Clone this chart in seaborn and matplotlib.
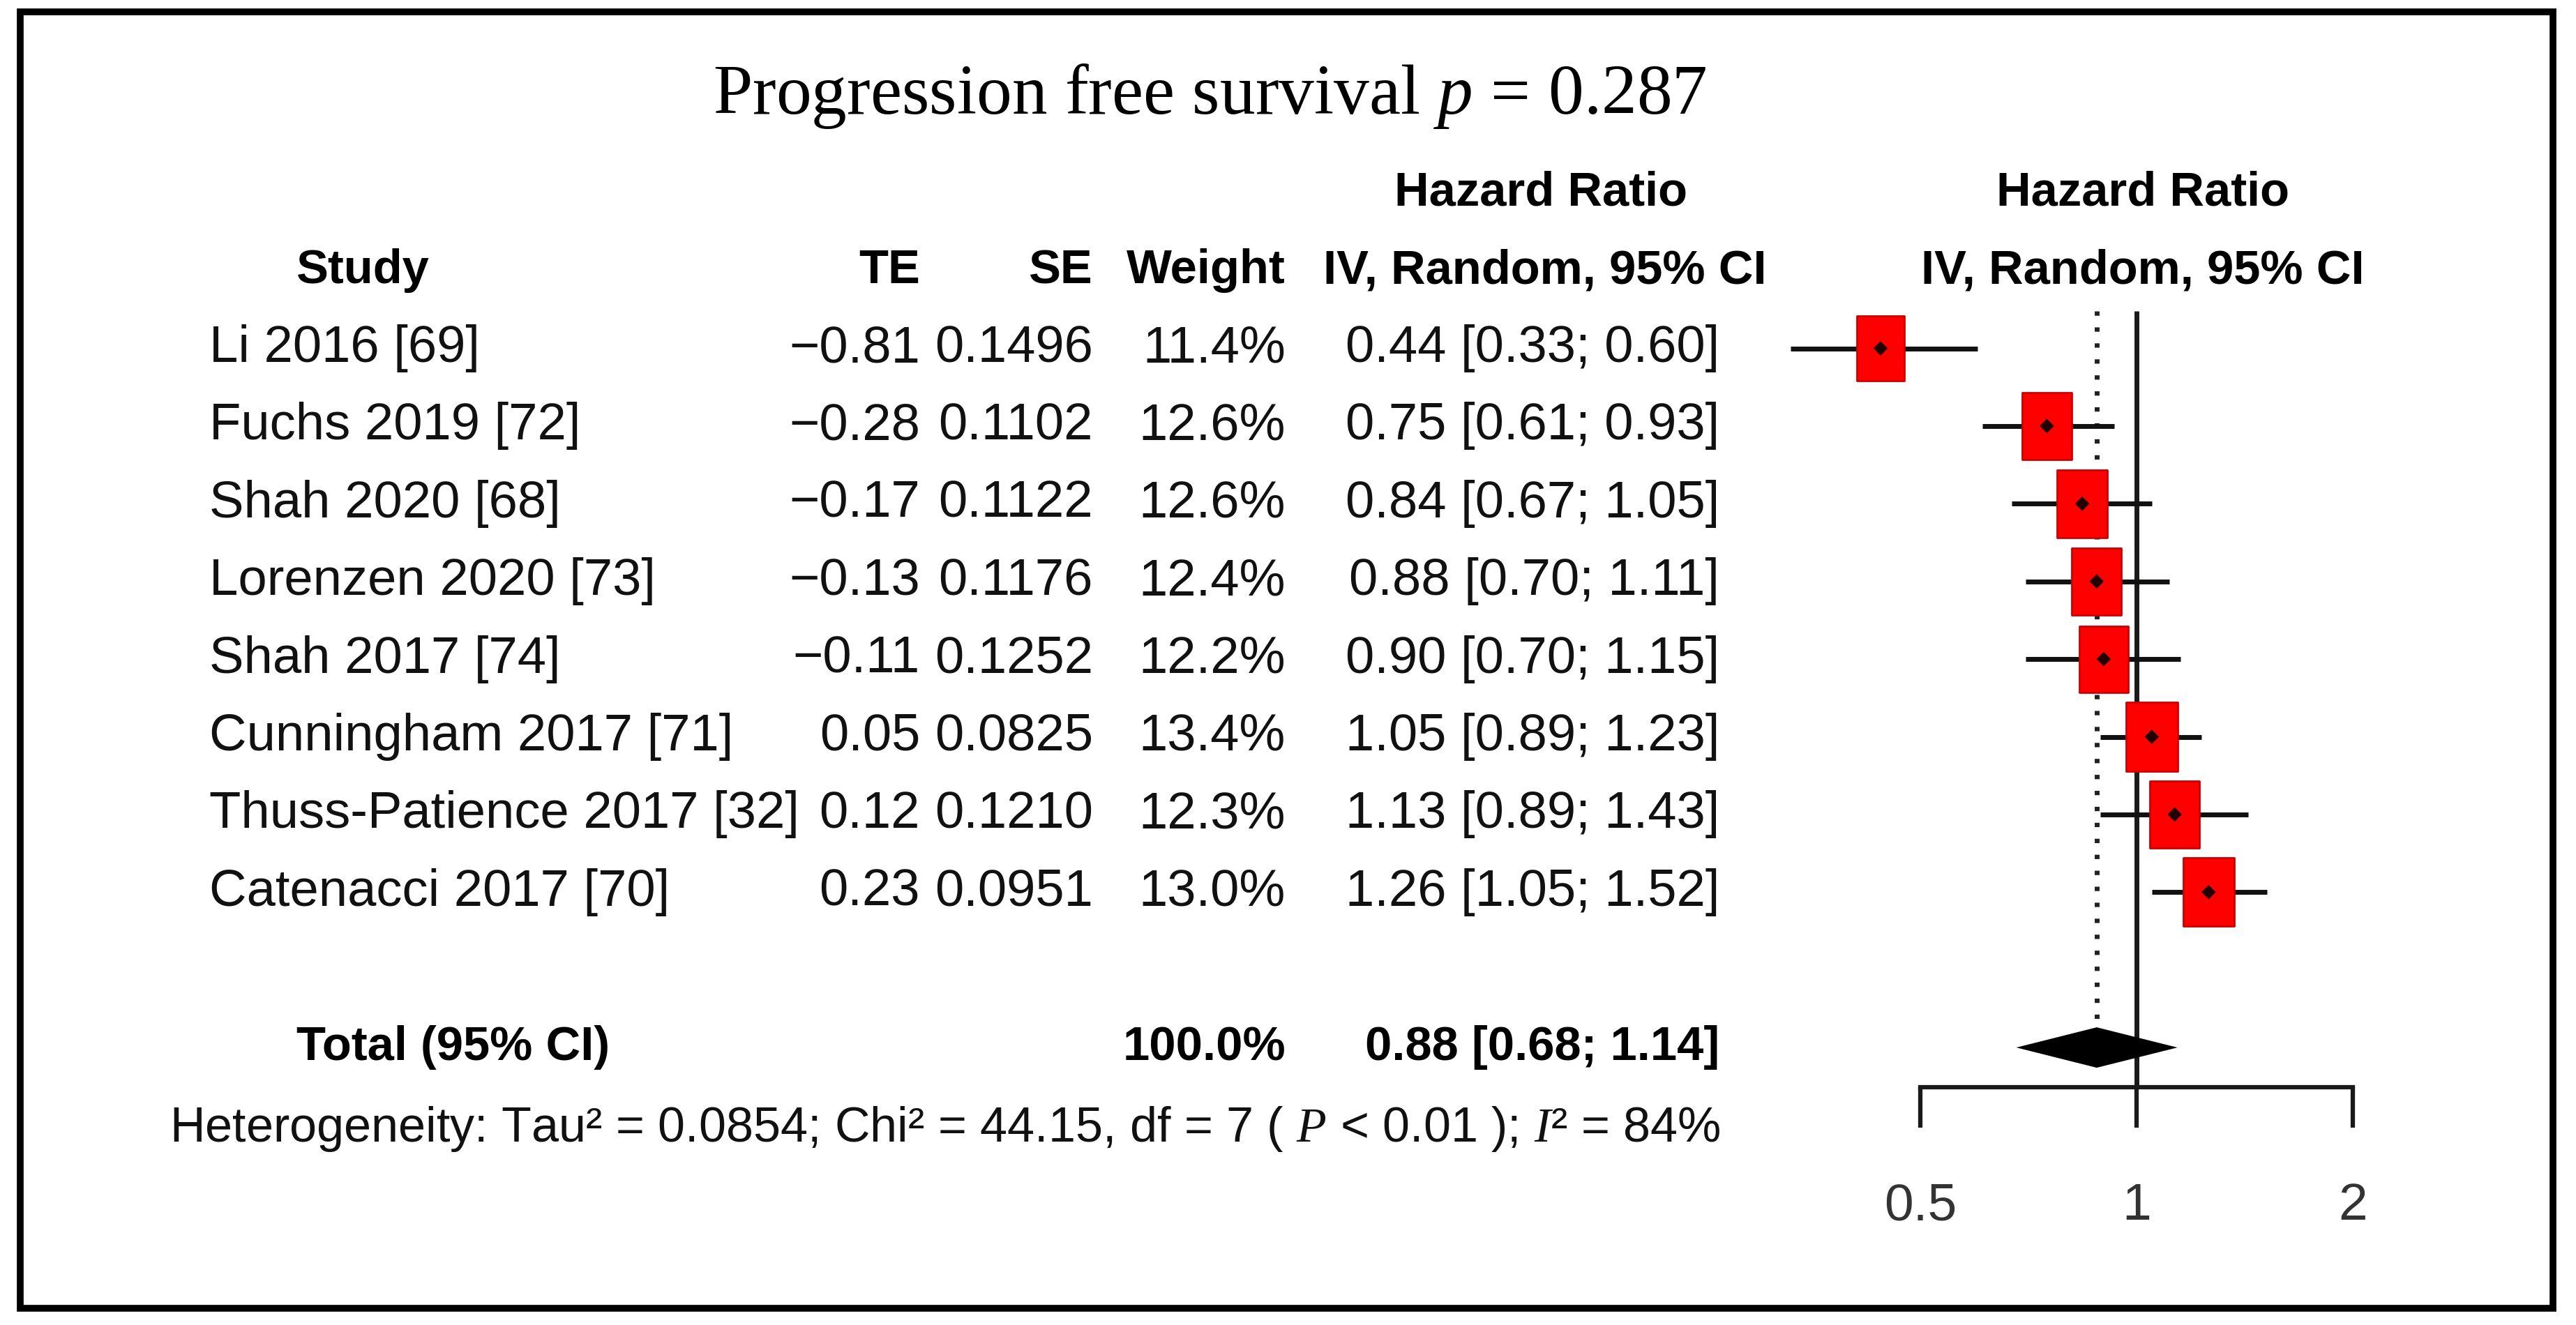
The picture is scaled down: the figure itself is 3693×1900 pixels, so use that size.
import matplotlib
matplotlib.use("Agg")
import matplotlib.pyplot as plt
import matplotlib.transforms as mtransforms
from matplotlib import font_manager
from matplotlib.markers import MarkerStyle
from matplotlib.path import Path
from matplotlib.patches import Rectangle
import seaborn as sns
import pandas as pd

# study data
studies = ["Li 2016 [69]", "Fuchs 2019 [72]", "Shah 2020 [68]", "Lorenzen 2020 [73]",
           "Shah 2017 [74]", "Cunningham 2017 [71]", "Thuss-Patience 2017 [32]",
           "Catenacci 2017 [70]"]
te = [-0.81, -0.28, -0.17, -0.13, -0.11, 0.05, 0.12, 0.23]
se = [0.1496, 0.1102, 0.1122, 0.1176, 0.1252, 0.0825, 0.1210, 0.0951]
weight = [11.4, 12.6, 12.6, 12.4, 12.2, 13.4, 12.3, 13.0]
hr = [0.44, 0.75, 0.84, 0.88, 0.90, 1.05, 1.13, 1.26]
ci_lo = [0.33, 0.61, 0.67, 0.70, 0.70, 0.89, 0.89, 1.05]
ci_hi = [0.60, 0.93, 1.05, 1.11, 1.15, 1.23, 1.43, 1.52]
total_hr, total_lo, total_hi = 0.88, 0.68, 1.14
total_weight = 100.0
x_ticks = [0.5, 1, 2]
tick_labels = ["0.5", "1", "2"]

df = pd.DataFrame({"study": studies, "te": te, "se": se, "weight": weight,
                   "hr": hr, "lo": ci_lo, "hi": ci_hi})
df["row"] = range(len(df))
total_row = len(df) + 1

sns.set_theme(style="white")
avail = {f.name for f in font_manager.fontManager.ttflist}
if "Liberation Sans Narrow" in avail:
    head_font, head_size = "Liberation Sans Narrow", 60
else:
    head_font, head_size = "Liberation Sans", 49.5
plt.rcParams["font.family"] = ["Liberation Sans", "DejaVu Sans"]
plt.rcParams["mathtext.fontset"] = "custom"
plt.rcParams["mathtext.it"] = "Liberation Serif:italic"
plt.rcParams["mathtext.rm"] = "Liberation Serif"

W, H = 3693, 1900
fig = plt.figure(figsize=(W / 100, H / 100), dpi=100)
fig.patch.set_facecolor("white")

# forest axes, placed in pixel terms of the reference
ax_l, ax_r, ax_t, ax_b = 2500, 3600, 350, 1700
ax = fig.add_axes([ax_l / W, 1 - ax_b / H, (ax_r - ax_l) / W, (ax_b - ax_t) / H])
ax.set_xscale("log")
row0, row_h = 499.5, 111.4
ax.set_xlim(0.2838, 3.324)
ax.set_ylim((ax_b - row0) / row_h, (ax_t - row0) / row_h)
ax.set_facecolor("none")

# reference lines
ax.vlines(1, -0.48, 9.51, color="#1a1a1a", lw=5, zorder=1)
ax.vlines(total_hr, -0.48, 8.68, color="#222222", lw=5,
          linestyles=(0, (0.9, 2.4)), zorder=1)

# CI lines
ax.hlines(df["row"], df["lo"], df["hi"], color="#111111", lw=5, zorder=2)

# weighted boxes (a bit taller than wide, as in the picture)
box = MarkerStyle(Path([(-0.37, -0.5), (0.37, -0.5), (0.37, 0.5), (-0.37, 0.5), (-0.37, -0.5)],
                       [Path.MOVETO, Path.LINETO, Path.LINETO, Path.LINETO, Path.CLOSEPOLY]))
k = 385
sns.scatterplot(data=df, x="hr", y="row", size="weight",
                sizes=(k * min(weight), k * max(weight)),
                size_norm=(min(weight), max(weight)),
                marker=box, color="#ff0000", edgecolor="#cc0000", linewidth=2,
                legend=False, ax=ax, zorder=3)
sns.scatterplot(data=df, x="hr", y="row", marker="D", s=110, color="#220000",
                edgecolor="none", legend=False, ax=ax, zorder=4)

# summary diamond
dh = 0.26
ax.fill([total_lo, total_hr, total_hi, total_hr],
        [total_row, total_row - dh, total_row, total_row + dh],
        color="black", lw=0, zorder=3)

# x axis drawn as the floating bottom spine
for s in ["top", "right", "left"]:
    ax.spines[s].set_visible(False)
ax.spines["bottom"].set_position(("data", 9.51))
ax.spines["bottom"].set_bounds(x_ticks[0], x_ticks[-1])
ax.spines["bottom"].set_linewidth(4.5)
ax.spines["bottom"].set_color("#1a1a1a")
ax.set_xticks(x_ticks)
ax.set_xticklabels(tick_labels)
ax.xaxis.set_minor_locator(matplotlib.ticker.NullLocator())
ax.tick_params(axis="x", which="major", direction="out", length=42, width=4.5,
               color="#1a1a1a", pad=56, labelsize=54, labelcolor="#333333", bottom=True)
ax.set_yticks([])
ax.set_xlabel("")
ax.set_ylabel("")

# table text: x in figure pixels, y in forest rows
tr = mtransforms.blended_transform_factory(
    mtransforms.Affine2D().scale(1.0 / W, 1.0) + fig.transFigure, ax.transData)
fs = 53.5
hb = dict(fontsize=head_size, fontweight="bold", family=[head_font, "DejaVu Sans"],
          transform=tr, va="center", color="black")
rg = dict(fontsize=fs, transform=tr, va="center", color="#111111")

ax.text(2209, -2, "Hazard Ratio", ha="center", **hb)
ax.text(3072, -2, "Hazard Ratio", ha="center", **hb)
ax.text(425, -1, "Study", ha="left", **hb)
ax.text(1319, -1, "TE", ha="right", **hb)
ax.text(1567, -1, "SE", ha="right", **hb)
ax.text(1843, -1, "Weight", ha="right", **hb)
ax.text(2533, -1, "IV, Random, 95% CI", ha="right", **hb)
ax.text(3072, -1, "IV, Random, 95% CI", ha="center", **hb)


def sign(v):
    return ("\u2212%.2f" % abs(v)) if v < 0 else "%.2f" % v


for _, r in df.iterrows():
    ax.text(300, r["row"], r["study"], ha="left", **rg)
    ax.text(1319, r["row"], sign(r["te"]), ha="right", **rg)
    ax.text(1567, r["row"], "%.4f" % r["se"], ha="right", **rg)
    ax.text(1843, r["row"], "%.1f%%" % r["weight"], ha="right", **rg)
    ax.text(2465, r["row"], "%.2f [%.2f; %.2f]" % (r["hr"], r["lo"], r["hi"]),
            ha="right", **rg)

ax.text(425, total_row, "Total (95% CI)", ha="left", **hb)
ax.text(1843, total_row, "%.1f%%" % total_weight, ha="right", **hb)
ax.text(2465, total_row, "%.2f [%.2f; %.2f]" % (total_hr, total_lo, total_hi),
        ha="right", **hb)
ax.text(243, 10.05,
        "Heterogeneity: Tau\u00b2 = 0.0854; Chi\u00b2 = 44.15, df = 7 ( $\\mathit{P}$ < 0.01 ); "
        "$\\mathit{I}$\u00b2 = 84%",
        ha="left", fontsize=50.5, transform=tr, va="center", color="#111111")

# title
fig.text(1734 / W, 1 - 163 / H, "Progression free survival $\\mathit{p}$ = 0.287",
         ha="center", va="baseline", fontsize=73,
         family=["Liberation Serif", "DejaVu Serif"], color="black")

# outer frame
fig.patches.append(Rectangle((29 / W, 1 - 1876 / H), (3660 - 29) / W, (1876 - 17) / H,
                             transform=fig.transFigure, fill=False, lw=7,
                             edgecolor="black", figure=fig))

fig.savefig("out.png", dpi=100, facecolor="white")
